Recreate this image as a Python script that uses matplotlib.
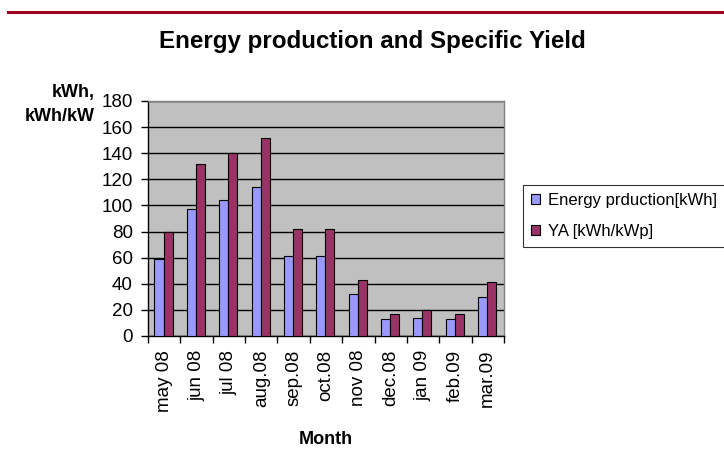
import numpy as np
import matplotlib
matplotlib.use("Agg")
import matplotlib.pyplot as plt
from matplotlib.lines import Line2D

plt.rcParams["font.family"] = ["Liberation Sans", "DejaVu Sans"]

# ---------------------------------------------
# DATA
# ---------------------------------------------

months = ["may 08", "jun 08", "jul 08", "aug.08", "sep.08", "oct.08",
          "nov 08", "dec.08", "jan 09", "feb.09", "mar.09"]
energy = [59, 97, 104, 114, 61, 61, 32, 13, 14, 13, 30]
ya = [80, 132, 140, 152, 82, 82, 43, 17, 20, 17, 41]

series_names = ["Energy prduction[kWh]", "YA [kWh/kWp]"]

# ---------------------------------------------
# FIGURE
# ---------------------------------------------

fig = plt.figure(figsize=(7.24, 4.57), dpi=100)
ax = fig.add_axes([0.2044, 0.2648, 0.4917, 0.5142])

x = np.arange(len(months))
w = 0.28
ax.bar(x - w / 2 - 0.02, energy, w, color="#9999FF", edgecolor="black",
       linewidth=0.8, label=series_names[0], zorder=3)
ax.bar(x + w / 2 - 0.02, ya, w, color="#993366", edgecolor="black",
       linewidth=0.8, label=series_names[1], zorder=3)

ax.set_facecolor("#C0C0C0")
ax.set_xlim(-0.5, len(months) - 0.5)
ax.set_ylim(0, 180)
ax.set_yticks(range(0, 181, 20))
ax.yaxis.grid(True, color="black", linewidth=1.0, zorder=1)
ax.set_axisbelow(True)

ax.set_xticks(x)
ax.set_xticklabels(months, rotation=90, fontsize=13.5)
ax.tick_params(axis="x", length=0, pad=10)
ax.set_xticks(np.arange(-0.5, len(months)), minor=True)
ax.tick_params(axis="x", which="minor", length=5, width=1)
ax.tick_params(axis="y", labelsize=13.5, length=5, width=1, pad=6)

for s in ["top", "right"]:
    ax.spines[s].set_color("#808080")
    ax.spines[s].set_linewidth(1.0)
for s in ["left", "bottom"]:
    ax.spines[s].set_color("black")
    ax.spines[s].set_linewidth(1.0)

ax.set_xlabel("Month", fontsize=13, fontweight="bold", labelpad=14)

fig.text(0.131, 0.797, "kWh,", ha="right", va="center", fontsize=13, fontweight="bold")
fig.text(0.131, 0.744, "kWh/kW", ha="right", va="center", fontsize=13, fontweight="bold")

fig.text(0.515, 0.91, "Energy production and Specific Yield", ha="center",
         va="center", fontsize=17.4, fontweight="bold")

# red rule at the top
fig.add_artist(Line2D([0.011, 1.0], [0.973, 0.973], color="#A0001E",
                      linewidth=2.2, transform=fig.transFigure))

leg = ax.legend(loc="upper left", bbox_to_anchor=(1.03, 0.68),
                frameon=True, fancybox=False, edgecolor="black",
                fontsize=12, handlelength=0.55, handleheight=0.55,
                handletextpad=0.45, borderpad=0.5, labelspacing=0.95)
leg.get_frame().set_linewidth(0.8)

plt.savefig("out.png", dpi=100)
